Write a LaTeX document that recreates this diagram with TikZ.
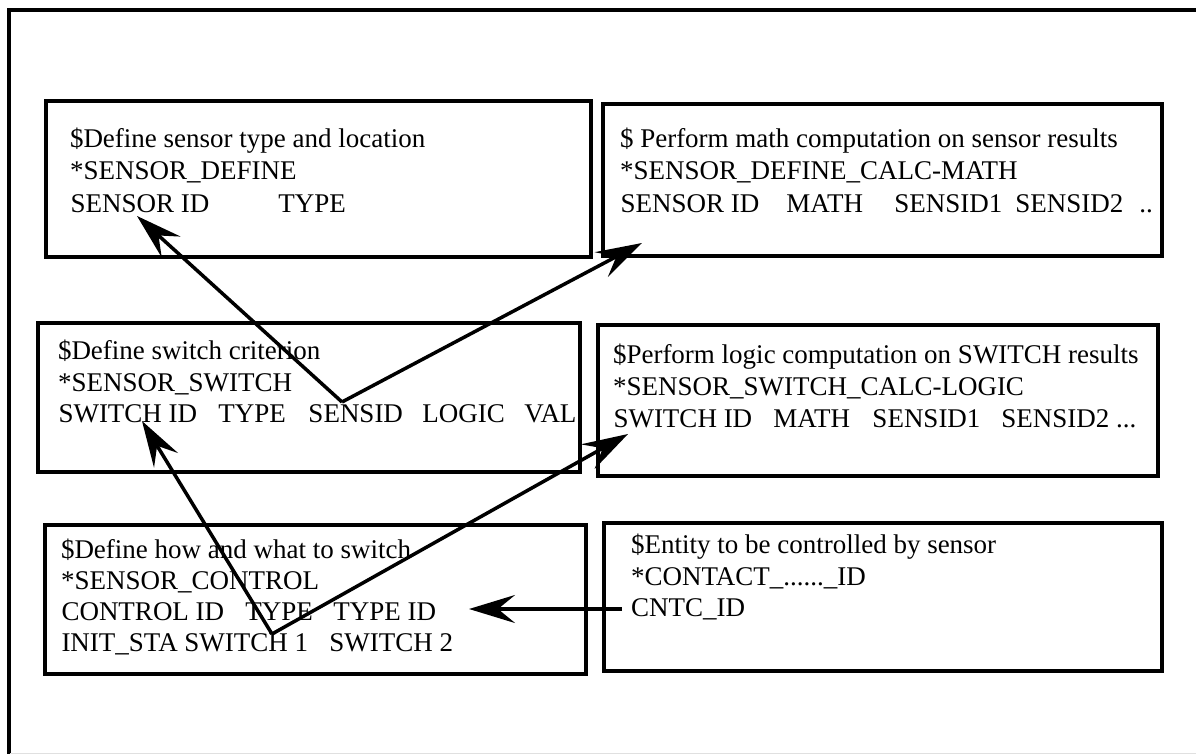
\documentclass[tikz,border=0pt]{standalone}
\usepackage{fontspec}
\setmainfont{Liberation Serif}
\usetikzlibrary{arrows.meta}
\newcommand\putw[2]{\makebox[0pt][l]{\hspace*{#1pt}#2}}
\begin{document}
\begin{tikzpicture}[x=1pt,y=-1pt,
  box/.style={draw,line width=4pt,inner sep=0pt,outer sep=0pt,rectangle},
  txt/.style={anchor=base west,inner sep=0pt,outer sep=0pt,font=\fontsize{27}{32}\selectfont},
  arr/.style={line width=3.5pt,-{Stealth[length=46pt,width=28pt,inset=17pt]}}]
\useasboundingbox (0,0) rectangle (1196,754);
% outer frame
\draw[line width=4pt] (8.7,756) -- (8.7,10.5) -- (1198,10.5);
\draw[black!12,line width=1pt] (10,753) -- (1196,753);
% boxes
\node[box,minimum width=545pt,minimum height=156pt] (b1) at (318.5,179) {};
\node[box,minimum width=559pt,minimum height=152pt] (b2) at (882.5,180) {};
\node[box,minimum width=542pt,minimum height=149pt] (b3) at (309,397.5) {};
\node[box,minimum width=560pt,minimum height=151pt] (b4) at (878,400.5) {};
\node[box,minimum width=541pt,minimum height=149pt] (b5) at (315.5,599.5) {};
\node[box,minimum width=558pt,minimum height=148pt] (b6) at (883,597) {};
% box 1
\node[txt] (t11) at (70,148) {\$Define sensor type and location};
\node[txt] (t12) at (70,180) {*SENSOR\_DEFINE};
\node[txt] (t13) at (70,212) {\putw{0}{SENSOR ID}\putw{208}{TYPE}};
% box 2
\node[txt] (t21) at (620,148) {\$ Perform math computation on sensor results};
\node[txt] (t22) at (620,180) {*SENSOR\_DEFINE\_CALC-MATH};
\node[txt] (t23) at (620,212) {\putw{0}{SENSOR ID}\putw{166}{MATH}\putw{274}{SENSID1}\putw{395}{SENSID2}\putw{519}{..}};
% box 3
\node[txt] (t31) at (58,359) {\$Define switch criterion};
\node[txt] (t32) at (58,391) {*SENSOR\_SWITCH};
\node[txt] (t33) at (58,422) {\putw{0}{SWITCH ID}\putw{160}{TYPE}\putw{250}{SENSID}\putw{364}{LOGIC}\putw{466}{VAL}};
% box 4
\node[txt] (t41) at (613,363) {\$Perform logic computation on SWITCH results};
\node[txt] (t42) at (613,395) {*SENSOR\_SWITCH\_CALC-LOGIC};
\node[txt] (t43) at (613,427) {\putw{0}{SWITCH ID}\putw{160}{MATH}\putw{259}{SENSID1}\putw{388}{SENSID2 ...}};
% box 5
\node[txt] (t51) at (61,558) {\$Define how and what to switch};
\node[txt] (t52) at (61,589) {*SENSOR\_CONTROL};
\node[txt] (t53) at (61,620) {\putw{0}{CONTROL ID}\putw{184}{TYPE}\putw{272}{TYPE ID}};
\node[txt] (t54) at (61,651) {\putw{0}{INIT\_STA}\putw{123}{SWITCH 1}\putw{268}{SWITCH 2}};
% box 6
\node[txt] (t61) at (631,553) {\$Entity to be controlled by sensor};
\node[txt] (t62) at (631,585) {*CONTACT\_......\_ID};
\node[txt] (t63) at (631,616) {CNTC\_ID};
% connector points
\coordinate (va) at (342,402);
\coordinate (ta1) at (137,216);
\coordinate (ta2) at (642,243);
\coordinate (vb) at (272,634);
\coordinate (tb1) at (142,421);
\coordinate (tb2) at (628,434);
\coordinate (sc) at (622,609);
\coordinate (tc) at (469,609);
% arrows
\draw[arr] (va) -- (ta1);
\draw[arr] (va) -- (ta2);
\draw[arr] (vb) -- (tb1);
\draw[arr] (vb) -- (tb2);
\draw[arr] (sc) -- (tc);
\end{tikzpicture}
\end{document}
